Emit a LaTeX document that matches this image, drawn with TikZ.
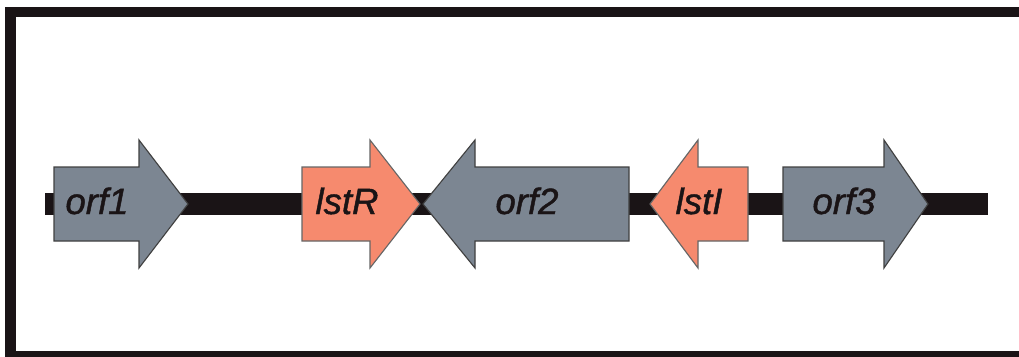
\documentclass[tikz,border=0pt]{standalone}
\usepackage{fontspec}
\setsansfont{Liberation Sans}[ItalicFeatures={FakeBold=1.2}]
\definecolor{genegray}{RGB}{124,134,146}
\definecolor{genesalmon}{RGB}{246,138,110}
\definecolor{inkdark}{RGB}{26,20,22}
\tikzset{
  frameline/.style={draw=inkdark, line width=7.8pt},
  backbone/.style={draw=inkdark, line width=15pt, line cap=butt},
  geneorf/.style={fill=genegray, draw=black!75, line width=0.8pt, line join=miter},
  genelst/.style={fill=genesalmon, draw=black!60, line width=0.8pt, line join=miter},
  genelabel/.style={anchor=base, inner sep=0pt, text=inkdark,
    font=\sffamily\itshape\fontsize{26}{30}\selectfont},
}
% forward gene: start x, head base x, tip x, style
\newcommand\genefwd[4]{\draw[#4] (#1,167) -- (#2,167) -- (#2,140) -- (#3,204)
  -- (#2,268) -- (#2,241) -- (#1,241) -- cycle;}
% reverse gene: end x, head base x, tip x, style
\newcommand\generev[4]{\draw[#4] (#3,204) -- (#2,140) -- (#2,167) -- (#1,167)
  -- (#1,241) -- (#2,241) -- (#2,268) -- cycle;}
\begin{document}
\begin{tikzpicture}[x=0.025cm, y=-0.025cm]
  \useasboundingbox (0,0) rectangle (1019,356);
  \begin{scope}
    \clip (0,0) rectangle (1019,356);
    % outer frame, partly running past the page edge
    \draw[frameline] (10.5,12) rectangle (1040,356);
    % chromosome backbone
    \coordinate (bbL) at (45,204);
    \coordinate (bbR) at (988,204);
    \draw[backbone] (bbL) -- (bbR);
    % genes
    \genefwd{54}{139}{188}{geneorf}
    \genefwd{302}{370}{420}{genelst}
    \generev{629}{475}{423}{geneorf}
    \generev{748}{698}{650}{genelst}
    \genefwd{783}{884}{928}{geneorf}
    % gene names
    \node[genelabel] (orf1) at (97,214) {orf1};
    \node[genelabel] (lstR) at (347,214) {lstR};
    \node[genelabel] (orf2) at (527,214) {orf2};
    \node[genelabel] (lstI) at (699,214) {lstI};
    \node[genelabel] (orf3) at (844,214) {orf3};
  \end{scope}
\end{tikzpicture}
\end{document}
